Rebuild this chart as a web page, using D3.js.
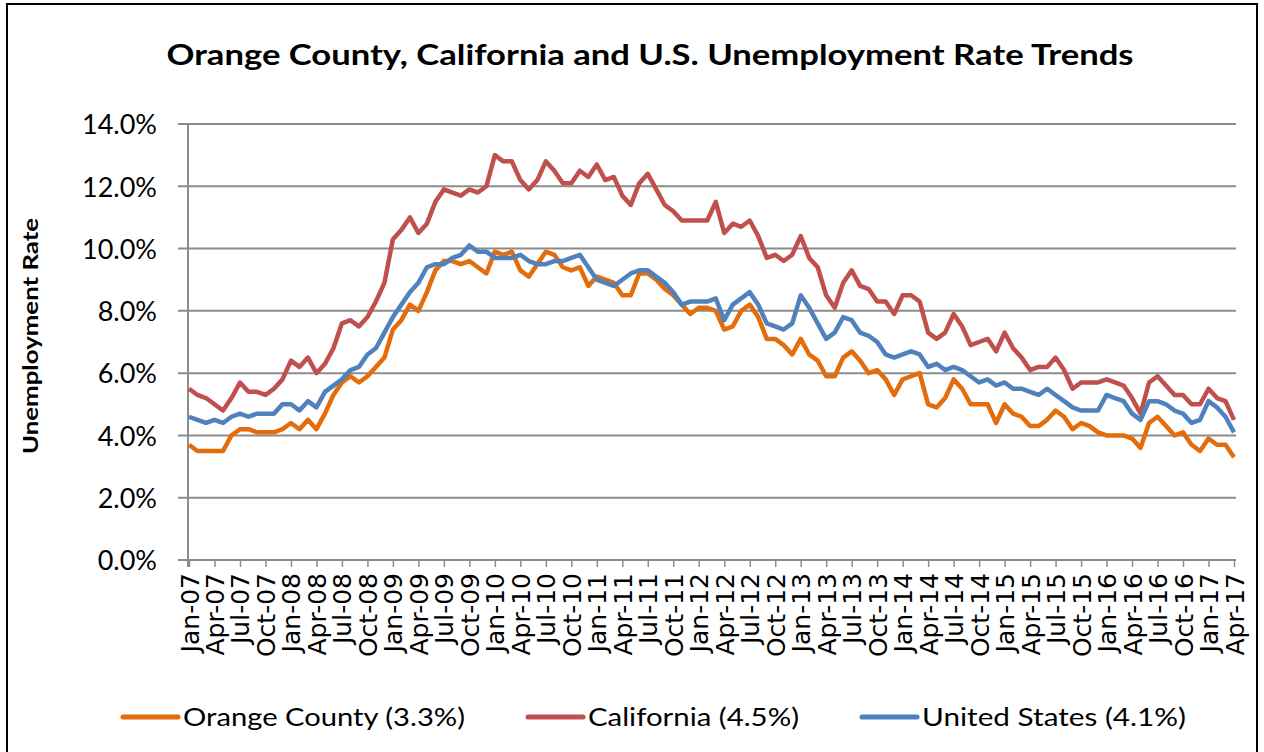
<!DOCTYPE html>
<html>
<head>
<meta charset="utf-8">
<script src="https://cdn.jsdelivr.net/npm/d3@7"></script>
<style>
  body { margin: 0; background: #fff; }
  svg { display: block; }
</style>
</head>
<body>
<script>
// Orange County / California / U.S. unemployment, monthly Jan-07 .. Apr-17

var months = d3.timeMonth.range(new Date(2007, 0, 1), new Date(2017, 4, 1))
  .map(d3.timeFormat("%b-%y"));

var tickLabels = months.filter(function(d, i){ return i % 3 == 0; });

var yTicks = [0, 2, 4, 6, 8, 10, 12, 14];

var seriesNames = ["Orange County", "California", "United States"];
var seriesColors = ["#e46c0a", "#c0504d", "#4f81bd"];

var orangeCounty = [
  3.7, 3.5, 3.5, 3.5, 3.5, 4.0, 4.2, 4.2, 4.1, 4.1, 4.1, 4.2,
  4.4, 4.2, 4.5, 4.2, 4.7, 5.3, 5.7, 5.9, 5.7, 5.9, 6.2, 6.5,
  7.4, 7.7, 8.2, 8.0, 8.6, 9.3, 9.6, 9.6, 9.5, 9.6, 9.4, 9.2,
  9.9, 9.8, 9.9, 9.3, 9.1, 9.5, 9.9, 9.8, 9.4, 9.3, 9.4, 8.8,
  9.1, 9.0, 8.9, 8.5, 8.5, 9.2, 9.2, 9.0, 8.7, 8.5, 8.2, 7.9,
  8.1, 8.1, 8.0, 7.4, 7.5, 8.0, 8.2, 7.8, 7.1, 7.1, 6.9, 6.6,
  7.1, 6.6, 6.4, 5.9, 5.9, 6.5, 6.7, 6.4, 6.0, 6.1, 5.8, 5.3,
  5.8, 5.9, 6.0, 5.0, 4.9, 5.2, 5.8, 5.5, 5.0, 5.0, 5.0, 4.4,
  5.0, 4.7, 4.6, 4.3, 4.3, 4.5, 4.8, 4.6, 4.2, 4.4, 4.3, 4.1,
  4.0, 4.0, 4.0, 3.9, 3.6, 4.4, 4.6, 4.3, 4.0, 4.1, 3.7, 3.5,
  3.9, 3.7, 3.7, 3.3
];

var california = [
  5.5, 5.3, 5.2, 5.0, 4.8, 5.2, 5.7, 5.4, 5.4, 5.3, 5.5, 5.8,
  6.4, 6.2, 6.5, 6.0, 6.3, 6.8, 7.6, 7.7, 7.5, 7.8, 8.3, 8.9,
  10.3, 10.6, 11.0, 10.5, 10.8, 11.5, 11.9, 11.8, 11.7, 11.9, 11.8, 12.0,
  13.0, 12.8, 12.8, 12.2, 11.9, 12.2, 12.8, 12.5, 12.1, 12.1, 12.5, 12.3,
  12.7, 12.2, 12.3, 11.7, 11.4, 12.1, 12.4, 11.9, 11.4, 11.2, 10.9, 10.9,
  10.9, 10.9, 11.5, 10.5, 10.8, 10.7, 10.9, 10.4, 9.7, 9.8, 9.6, 9.8,
  10.4, 9.7, 9.4, 8.5, 8.1, 8.9, 9.3, 8.8, 8.7, 8.3, 8.3, 7.9,
  8.5, 8.5, 8.3, 7.3, 7.1, 7.3, 7.9, 7.5, 6.9, 7.0, 7.1, 6.7,
  7.3, 6.8, 6.5, 6.1, 6.2, 6.2, 6.5, 6.1, 5.5, 5.7, 5.7, 5.7,
  5.8, 5.7, 5.6, 5.2, 4.7, 5.7, 5.9, 5.6, 5.3, 5.3, 5.0, 5.0,
  5.5, 5.2, 5.1, 4.5
];

var unitedStates = [
  4.6, 4.5, 4.4, 4.5, 4.4, 4.6, 4.7, 4.6, 4.7, 4.7, 4.7, 5.0,
  5.0, 4.8, 5.1, 4.9, 5.4, 5.6, 5.8, 6.1, 6.2, 6.6, 6.8, 7.3,
  7.8, 8.2, 8.6, 8.9, 9.4, 9.5, 9.5, 9.7, 9.8, 10.1, 9.9, 9.9,
  9.7, 9.7, 9.7, 9.8, 9.6, 9.5, 9.5, 9.6, 9.6, 9.7, 9.8, 9.4,
  9.0, 8.9, 8.8, 9.0, 9.2, 9.3, 9.3, 9.1, 8.9, 8.6, 8.2, 8.3,
  8.3, 8.3, 8.4, 7.7, 8.2, 8.4, 8.6, 8.2, 7.6, 7.5, 7.4, 7.6,
  8.5, 8.1, 7.6, 7.1, 7.3, 7.8, 7.7, 7.3, 7.2, 7.0, 6.6, 6.5,
  6.6, 6.7, 6.6, 6.2, 6.3, 6.1, 6.2, 6.1, 5.9, 5.7, 5.8, 5.6,
  5.7, 5.5, 5.5, 5.4, 5.3, 5.5, 5.3, 5.1, 4.9, 4.8, 4.8, 4.8,
  5.3, 5.2, 5.1, 4.7, 4.5, 5.1, 5.1, 5.0, 4.8, 4.7, 4.4, 4.5,
  5.1, 4.9, 4.6, 4.1
];

var seriesValues = [orangeCounty, california, unitedStates];

var W = 1264, H = 752;
var grid = "#8c8c8c";
var font = "Lato, 'Open Sans', sans-serif";

var svg = d3.select("body").append("svg")
  .attr("width", W)
  .attr("height", H);

svg.append("rect")
  .attr("x", 7).attr("y", 4)
  .attr("width", 1250).attr("height", 770)
  .attr("fill", "#fff")
  .attr("stroke", "#000")
  .attr("stroke-width", 2);

var x = d3.scaleLinear()
  .domain([0, months.length - 1])
  .range([189, 1234]);

var y = d3.scaleLinear()
  .domain([0, 14])
  .range([560, 124]);

// title
svg.append("text")
  .attr("x", 650).attr("y", 65)
  .attr("text-anchor", "middle")
  .attr("font-family", font)
  .attr("font-weight", "bold")
  .attr("font-size", 29)
  .attr("textLength", 967)
  .attr("lengthAdjust", "spacingAndGlyphs")
  .text("Orange County, California and U.S. Unemployment Rate Trends");

// gridlines
svg.append("g")
  .selectAll("line")
  .data(yTicks)
  .enter().append("line")
  .attr("x1", 178).attr("x2", 1236)
  .attr("y1", function(d){ return y(d); })
  .attr("y2", function(d){ return y(d); })
  .attr("stroke", grid)
  .attr("stroke-width", 2);

// y axis
var y_axis = d3.axisLeft(y)
  .tickValues(yTicks)
  .tickSize(0)
  .tickPadding(0)
  .tickFormat(function(d){ return d3.format(".1f")(d) + "%"; });

var gy = svg.append("g")
  .attr("class", "y axis")
  .attr("transform", "translate(157,0)")
  .call(y_axis);
gy.select(".domain").remove();
gy.selectAll(".tick text")
  .attr("x", 0)
  .attr("dy", "0.36em")
  .attr("fill", "#000")
  .attr("font-family", font)
  .attr("font-size", 27);

svg.append("line")
  .attr("x1", 188).attr("x2", 188)
  .attr("y1", y(14)).attr("y2", y(0) + 7)
  .attr("stroke", grid).attr("stroke-width", 2);

// x axis, a label every third month
var x_axis = d3.axisBottom(x)
  .tickValues(d3.range(0, months.length, 3))
  .tickSize(7)
  .tickSizeOuter(0)
  .tickFormat(function(d){ return tickLabels[d / 3]; });

var gx = svg.append("g")
  .attr("class", "x axis")
  .attr("transform", "translate(0," + y(0) + ")")
  .call(x_axis);
gx.select(".domain")
  .attr("d", "M188,0H1236")
  .attr("stroke", grid).attr("stroke-width", 2);
gx.selectAll(".tick line").attr("stroke", grid).attr("stroke-width", 1.5);
gx.selectAll(".tick text")
  .attr("transform", "rotate(-90)")
  .attr("text-anchor", "end")
  .attr("x", -13)
  .attr("y", 0)
  .attr("dy", "0.36em")
  .attr("fill", "#000")
  .attr("font-family", "'DejaVu Sans', sans-serif")
  .attr("font-size", 25);

// y axis title
svg.append("text")
  .attr("transform", "translate(38,336) rotate(-90)")
  .attr("text-anchor", "middle")
  .attr("font-family", font)
  .attr("font-weight", "bold")
  .attr("font-size", 20)
  .attr("textLength", 236)
  .attr("lengthAdjust", "spacingAndGlyphs")
  .text("Unemployment Rate");

// lines
var line = d3.line()
  .x(function(d, i){ return x(i); })
  .y(function(d){ return y(d); });

svg.append("g")
  .selectAll("path")
  .data(seriesValues)
  .enter().append("path")
  .attr("d", line)
  .attr("fill", "none")
  .attr("stroke", function(d, i){ return seriesColors[i]; })
  .attr("stroke-width", 4.5)
  .attr("stroke-linejoin", "round");

// legend
var legendX = [123, 528, 862];
var legendW = [282, 211, 264];
var legend = svg.append("g").selectAll("g")
  .data(seriesNames)
  .enter().append("g")
  .attr("transform", function(d, i){ return "translate(" + legendX[i] + ",717)"; });

legend.append("line")
  .attr("x1", 0).attr("x2", 55)
  .attr("stroke", function(d, i){ return seriesColors[i]; })
  .attr("stroke-width", 5)
  .attr("stroke-linecap", "round");

legend.append("text")
  .attr("x", 60)
  .attr("dy", "0.36em")
  .attr("font-family", font)
  .attr("font-size", 25)
  .attr("textLength", function(d, i){ return legendW[i]; })
  .attr("lengthAdjust", "spacingAndGlyphs")
  .text(function(d, i){
    var v = seriesValues[i];
    return d + " (" + v[v.length - 1].toFixed(1) + "%)";
  });
</script>
</body>
</html>
